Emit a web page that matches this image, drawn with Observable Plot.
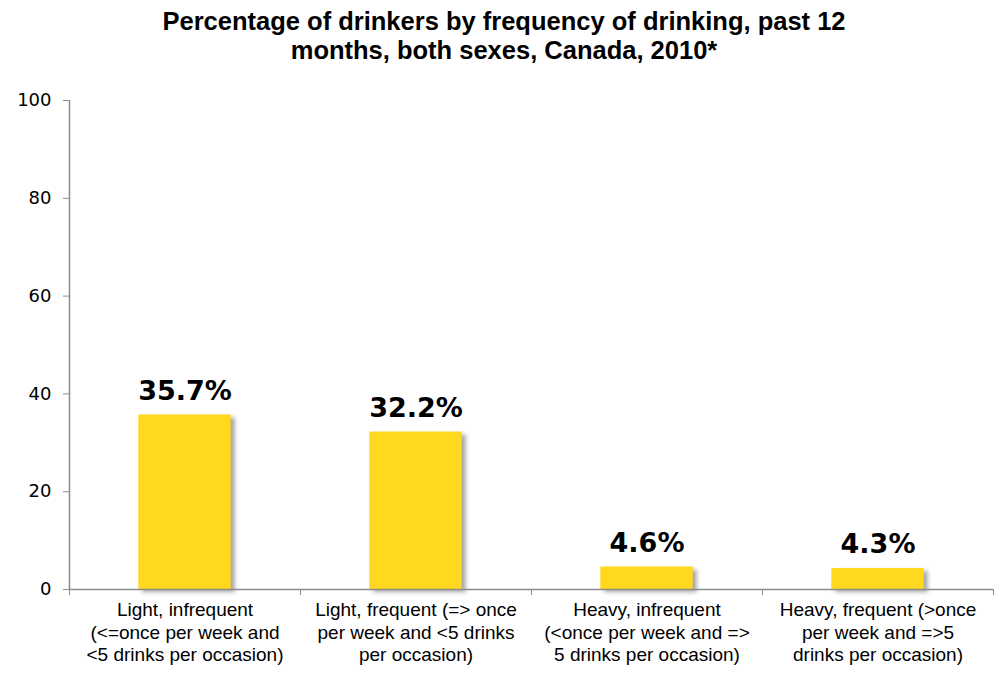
<!DOCTYPE html>
<html>
<head>
<meta charset="utf-8">
<script src="https://cdn.jsdelivr.net/npm/d3@7"></script>
<script src="https://cdn.jsdelivr.net/npm/@observablehq/plot@0.6"></script>
<style>
  html, body { margin: 0; padding: 0; background: #fff; }
  #title { width: 1008px; height: 80px; box-sizing: border-box; padding-top: 7px;
    text-align: center; font-family: "Liberation Sans", Arial, sans-serif; font-weight: bold;
    font-size: 25.5px; line-height: 29px; color: #000; }
  #chart svg { display: block; }
</style>
</head>
<body>
<div id="title">Percentage of drinkers by frequency of drinking, past 12<br>months, both sexes, Canada, 2010*</div>
<div id="chart"></div>
<script>
const categories = [
  "Light, infrequent\n(<=once per week and\n<5 drinks per occasion)",
  "Light, frequent (=> once\nper week and <5 drinks\nper occasion)",
  "Heavy, infrequent\n(<once per week and =>\n5 drinks per occasion)",
  "Heavy, frequent (>once\nper week and =>5\ndrinks per occasion)"
];
const values = [35.7, 32.2, 4.6, 4.3];
const valueLabels = ["35.7%", "32.2%", "4.6%", "4.3%"];
const yTicks = [0, 20, 40, 60, 80, 100];
const boundaries = [0, 1, 2, 3, 4];

const data = categories.map((c, i) => ({cat: c, i, value: values[i], label: valueLabels[i]}));

const W = 1008, H = 595, ML = 69, MR = 15, MT = 20, MB = 86;
const bw = (W - ML - MR) / categories.length;
const inset = bw * 0.3;
const gray = "#8c8c8c";

const chart = Plot.plot({
  width: W, height: H,
  marginLeft: ML, marginRight: MR, marginTop: MT, marginBottom: MB,
  x: {domain: [0, categories.length], axis: null},
  y: {domain: [0, 100], axis: null},
  style: {background: "#fff"},
  marks: [
    Plot.rectY(data, {x1: d => d.i, x2: d => d.i + 1, y: "value", fill: "#FFD81F", insetLeft: inset, insetRight: inset}),
    Plot.ruleX([0], {y1: 0, y2: 100, stroke: gray, strokeWidth: 1.5}),
    Plot.ruleY([0], {stroke: gray, strokeWidth: 1.5}),
    Plot.axisY({ticks: yTicks, tickSize: 6, tickPadding: 12, label: null, stroke: gray, fontSize: 18, fontFamily: "DejaVu Sans", fill: "#000"}),
    Plot.axisX({ticks: boundaries, tickSize: 6, tickFormat: () => "", label: null, stroke: gray}),
    Plot.text(data, {x: d => d.i + 0.5, y: 0, text: "cat", lineAnchor: "top", dy: 11, lineHeight: 1.18,
      fontSize: 19, fontFamily: "Liberation Sans", fill: "#000", textAnchor: "middle"}),
    Plot.text(data, {x: d => d.i + 0.5, y: "value", text: "label", lineAnchor: "bottom", dy: -15,
      fontSize: 27, fontWeight: "bold", fontFamily: "DejaVu Sans", fill: "#000"})
  ]
});
d3.select(chart).selectAll("rect").filter(function() { return this.parentNode.getAttribute("aria-label") === "rect"; })
  .style("filter", "drop-shadow(4px 3px 2px rgba(0,0,0,0.35))");
document.getElementById("chart").appendChild(chart);
</script>
</body>
</html>
